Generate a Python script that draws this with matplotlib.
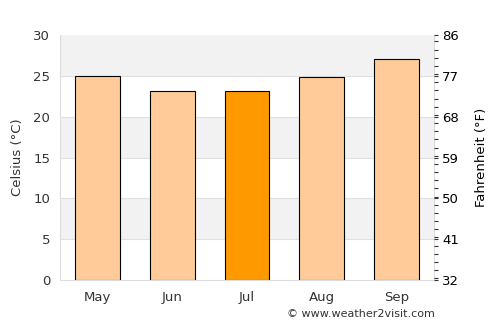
import matplotlib
matplotlib.use("Agg")
import matplotlib.pyplot as plt
from matplotlib.ticker import MultipleLocator, FixedLocator

months = ["May", "Jun", "Jul", "Aug", "Sep"]
celsius = [25.0, 23.1, 23.2, 24.85, 27.05]
highlight = "Jul"
c_ticks = [0, 5, 10, 15, 20, 25, 30]
f_ticks = [32, 41, 50, 59, 68, 77, 86]

light = "#ffcc99"
dark = "#ff9900"
txt = "#333333"

fig = plt.figure(figsize=(5, 3.25), dpi=100)
ax = fig.add_axes([0.12, 0.1385, 0.748, 0.7535])

# alternating bands
for i, lo in enumerate(c_ticks[:-1]):
    if i % 2 == 1:
        ax.axhspan(lo, lo + 5, color="#f2f2f2", zorder=0, lw=0)
for t in c_ticks[1:-1]:
    ax.axhline(t, color="#e0e0e0", lw=0.8, zorder=0.5)

x = list(range(len(months)))
colors = [dark if m == highlight else light for m in months]
ax.bar(x, celsius, width=0.6, color=colors, edgecolor="black", linewidth=0.8, zorder=2)

ax.set_xlim(-0.5, 4.5)
ax.set_ylim(0, 30)
ax.set_xticks(x)
ax.set_xticklabels(months)
ax.set_yticks(c_ticks)
ax.tick_params(axis="both", length=0, labelsize=9.5, colors=txt, pad=7)
ax.tick_params(axis="x", pad=8)
for s in ["top"]:
    ax.spines[s].set_visible(False)
for s in ["left", "right", "bottom"]:
    ax.spines[s].set_color("#dddddd")
    ax.spines[s].set_linewidth(0.8)
ax.set_ylabel("Celsius (°C)", fontsize=9.5, color=txt, labelpad=7)

ax2 = ax.twinx()
ax2.set_ylim(32, 86)
ax2.yaxis.set_major_locator(FixedLocator(f_ticks))
ax2.yaxis.set_minor_locator(MultipleLocator(1.8))
ax2.tick_params(axis="y", which="both", length=3, width=0.8, color="#333333",
                labelsize=9.5, labelcolor="black", pad=3)
for s in ax2.spines.values():
    s.set_visible(False)
ax2.set_ylabel("Fahrenheit (°F)", fontsize=9.5, color="black", labelpad=11)

fig.text(0.87, 0.035, "© www.weather2visit.com", ha="right", va="center",
         fontsize=8, color=txt)

fig.savefig("out.png", dpi=100)
